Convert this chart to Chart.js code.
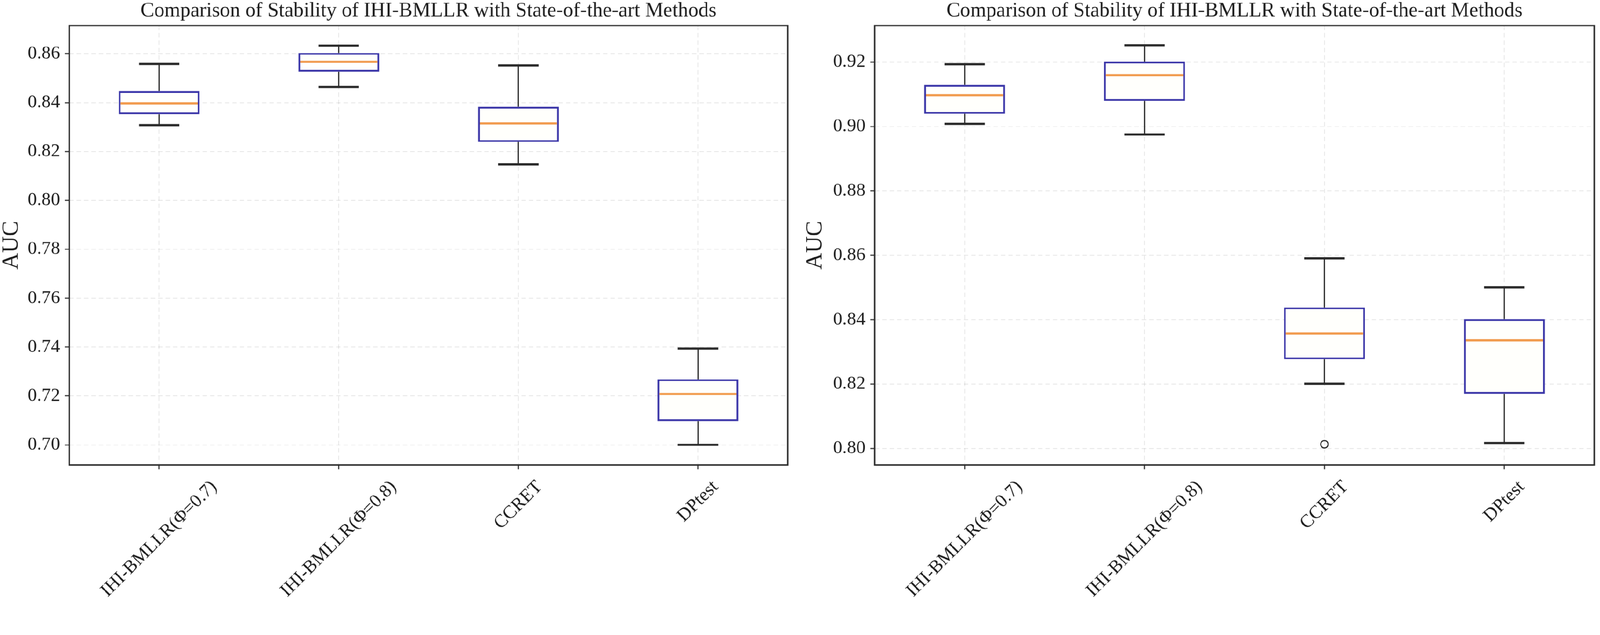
<!DOCTYPE html>
<html>
<head>
<meta charset="utf-8">
<script src="https://cdn.jsdelivr.net/npm/chart.js@4.4.0/dist/chart.umd.min.js"></script>
<style>
  html, body { margin: 0; padding: 0; background: #fff; overflow: hidden; }
  #wrap { position: absolute; left: 0; top: 0; width: 4317px; height: 1626px; transform-origin: 0 0; }
  .panel { position: absolute; top: 0; height: 1626px; }
  #leftPanel { left: 0; width: 2158px; }
  #rightPanel { left: 2158px; width: 2159px; }
</style>
</head>
<body>
<div id="wrap">
  <div class="panel" id="leftPanel"><canvas id="leftChart" width="2158" height="1626"></canvas></div>
  <div class="panel" id="rightPanel"><canvas id="rightChart" width="2159" height="1626"></canvas></div>
</div>
<script>
// categories + labels
const methods = ["IHI-BMLLR(Φ=0.7)", "IHI-BMLLR(Φ=0.8)", "CCRET", "DPtest"];
const titleText = "Comparison of Stability of IHI-BMLLR with State-of-the-art Methods";
const yTitle = "AUC";

// left panel: whisker low, Q1, median, Q3, whisker high
const leftLow    = [0.8308, 0.8464, 0.8147, 0.7000];
const leftQ1     = [0.8352, 0.8526, 0.8239, 0.7097];
const leftMedian = [0.8397, 0.8567, 0.8315, 0.7208];
const leftQ3     = [0.8447, 0.8603, 0.8383, 0.7268];
const leftHigh   = [0.8558, 0.8633, 0.8552, 0.7394];
const leftOutliers = [null, null, null, null];
const leftTicks  = [0.70, 0.72, 0.74, 0.76, 0.78, 0.80, 0.82, 0.84, 0.86];

// right panel
const rightLow    = [0.9008, 0.8975, 0.8201, 0.8017];
const rightQ1     = [0.9039, 0.9079, 0.8277, 0.8170];
const rightMedian = [0.9097, 0.9159, 0.8357, 0.8336];
const rightQ3     = [0.9129, 0.9201, 0.8438, 0.8402];
const rightHigh   = [0.9193, 0.9252, 0.8590, 0.8500];
const rightOutliers = [null, null, 0.8013, null];
const rightTicks  = [0.80, 0.82, 0.84, 0.86, 0.88, 0.90, 0.92];

const serif = "'Liberation Serif', 'Times New Roman', serif";
const ink = "#1e1e1e";

// the page is laid out in 4317x1626 units; fit it to whatever the window really is
const fit = Math.min(window.innerWidth / 4317, window.innerHeight / 1626) || 1;
document.getElementById("wrap").style.transform = "scale(" + fit + ")";
const pixelRatio = fit * (window.devicePixelRatio || 1);

// whiskers, caps, medians, frame and slanted category labels
function boxParts(low, median, high) {
  return {
    id: "boxParts",
    afterDatasetsDraw(chart) {
      const { ctx, scales: { y } } = chart;
      const boxes = chart.getDatasetMeta(0).data;
      ctx.save();
      boxes.forEach((bar, i) => {
        const cx = bar.x;
        const half = bar.width / 2;
        const top = Math.min(bar.y, bar.base);
        const bot = Math.max(bar.y, bar.base);
        const yLo = y.getPixelForValue(low[i]);
        const yHi = y.getPixelForValue(high[i]);
        // whiskers
        ctx.strokeStyle = ink;
        ctx.lineWidth = 3;
        ctx.beginPath();
        ctx.moveTo(cx, top); ctx.lineTo(cx, yHi);
        ctx.moveTo(cx, bot); ctx.lineTo(cx, yLo);
        ctx.stroke();
        // caps
        ctx.lineWidth = 6;
        ctx.strokeStyle = "#2a2a2a";
        ctx.beginPath();
        ctx.moveTo(cx - half / 2, yHi); ctx.lineTo(cx + half / 2, yHi);
        ctx.moveTo(cx - half / 2, yLo); ctx.lineTo(cx + half / 2, yLo);
        ctx.stroke();
        // median
        const yMed = y.getPixelForValue(median[i]);
        ctx.strokeStyle = "#f19a4c";
        ctx.lineWidth = 6;
        ctx.beginPath();
        ctx.moveTo(cx - half + 5, yMed); ctx.lineTo(cx + half - 5, yMed);
        ctx.stroke();
      });
      ctx.restore();
    },
    afterDraw(chart) {
      const { ctx, chartArea: a, scales: { x } } = chart;
      ctx.save();
      ctx.strokeStyle = "#2b2b2b";
      ctx.lineWidth = 4;
      ctx.strokeRect(a.left, a.top, a.right - a.left, a.bottom - a.top);

      // x labels, rotated 45deg, centred under the tick like matplotlib
      const size = 50;
      ctx.font = size + "px " + serif;
      ctx.fillStyle = ink;
      ctx.textAlign = "center";
      ctx.textBaseline = "middle";
      methods.forEach((m, i) => {
        const px = x.getPixelForTick(i);
        const w = ctx.measureText(m).width;
        const side = (w + size * 0.9) * Math.SQRT1_2;
        ctx.save();
        ctx.translate(px, a.bottom + 36 + side / 2);
        ctx.rotate(-Math.PI / 4);
        ctx.fillText(m, 0, 0);
        ctx.restore();
      });
      ctx.restore();
    },
  };
}

function makePanel(id, low, q1, median, q3, high, outliers, ticks, yMin, yMax, axisWidth, padRight, titlePad) {
  return new Chart(document.getElementById(id), {
    type: "bar",
    data: {
      labels: methods,
      datasets: [
        {
          type: "bar",
          data: q1.map((v, i) => [v, q3[i]]),
          backgroundColor: "#fffffc",
          borderColor: "#3a35a8",
          borderWidth: 5,
          borderSkipped: false,
          barPercentage: 0.45,
          categoryPercentage: 1.0,
        },
        {
          type: "line",
          data: outliers,
          showLine: false,
          pointRadius: 10,
          pointBorderWidth: 3,
          pointBorderColor: ink,
          pointBackgroundColor: "rgba(0,0,0,0)",
        },
      ],
    },
    options: {
      responsive: false,
      animation: false,
      devicePixelRatio: pixelRatio,
      layout: { padding: { left: 0, right: padRight, top: 0, bottom: 0 } },
      plugins: {
        legend: { display: false },
        tooltip: { enabled: false },
        title: {
          display: true,
          text: titleText,
          fullSize: false,
          color: ink,
          font: { family: serif, size: 55, weight: "normal", lineHeight: 1.1 },
          padding: { top: 0, bottom: 8.5 },
        },
      },
      scales: {
        x: {
          offset: true,
          grid: {
            offset: false,
            color: "rgba(0,0,0,0.10)",
            lineWidth: 2,
            drawTicks: true,
            tickLength: 12,
            tickColor: "#333",
            tickWidth: 3,
            tickBorderDash: [],
          },
          border: { display: false, dash: [12, 8] },
          ticks: { display: false },
          afterFit: (s) => { s.height = 372; },
        },
        y: {
          min: yMin,
          max: yMax,
          afterBuildTicks: (s) => { s.ticks = ticks.map((v) => ({ value: v })); },
          grid: {
            color: "rgba(0,0,0,0.10)",
            lineWidth: 2,
            drawTicks: true,
            tickLength: 12,
            tickColor: "#333",
            tickWidth: 3,
            tickBorderDash: [],
          },
          border: { display: false, dash: [12, 8] },
          ticks: {
            color: ink,
            padding: 13,
            font: { family: serif, size: 50 },
            callback: (v) => Number(v).toFixed(2),
          },
          title: {
            display: true,
            text: yTitle,
            color: ink,
            font: { family: serif, size: 62, lineHeight: 1 },
            padding: { top: titlePad, bottom: 0 },
          },
          afterFit: (s) => { s.width = axisWidth; },
        },
      },
    },
    plugins: [boxParts(low, median, high)],
  });
}

makePanel("leftChart", leftLow, leftQ1, leftMedian, leftQ3, leftHigh, leftOutliers,
  leftTicks, 0.6918, 0.8715, 187, 33, 0);
makePanel("rightChart", rightLow, rightQ1, rightMedian, rightQ3, rightHigh, rightOutliers,
  rightTicks, 0.7949, 0.9313, 202, 16, 11);
</script>
</body>
</html>
